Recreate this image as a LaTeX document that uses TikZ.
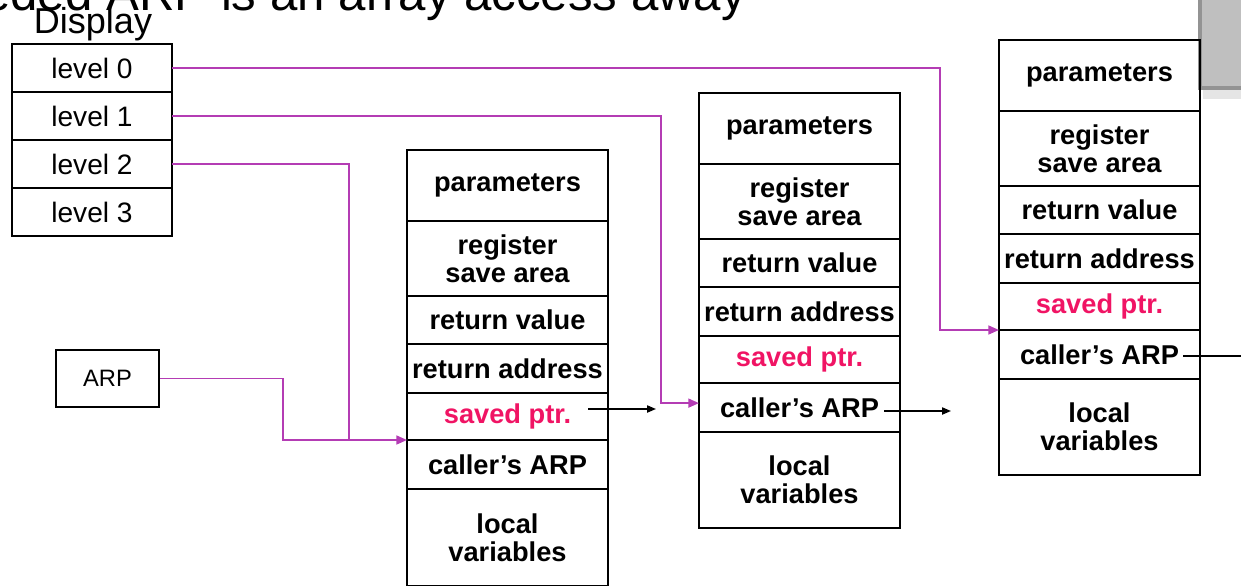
\documentclass[tikz,border=0pt]{standalone}
\usepackage{fontspec}
\setmainfont{Liberation Sans}
\usetikzlibrary{arrows.meta, positioning}

\definecolor{linkc}{RGB}{180,60,180}
\definecolor{ptrc}{RGB}{240,20,100}

\begin{document}
\begin{tikzpicture}[x=0.02cm, y=-0.02cm,
  cell/.style={draw, line width=1.3pt, outer sep=0pt, inner sep=0pt,
               minimum width=201*\px cm, align=center,
               font=\fontsize{15.5}{16}\selectfont\bfseries},
  lvl/.style={draw, line width=1.1pt, outer sep=0pt, inner sep=0pt,
              minimum width=160*\px cm, minimum height=48*\px cm,
              font=\fontsize{16}{18}\selectfont},
  link/.style={draw=linkc, line width=1.1pt, -{Triangle[length=6pt,width=5pt]}},
  nxt/.style={line width=0.9pt, -{Triangle[length=5pt,width=4pt]}}]

  \def\px{0.02}

  % page frame, title runs off the top
  \useasboundingbox (0,0) rectangle (1241,585);
  \clip (0,0) rectangle (1241,585);

  \node[anchor=base west, inner sep=0pt, font=\fontsize{28}{32}\selectfont] (title)
    at (-80,10) {Needed ARP is an array access away};

  % gray box in the corner
  \fill[black!10] (1203,90) rectangle (1250,99);
  \fill[gray!50] (1198,-5) rectangle (1250,90);
  \fill[gray!85] (1198,-5) rectangle (1202,90);
  \fill[gray!85] (1198,86) rectangle (1250,90);

  % the display
  \node[anchor=base, inner sep=0pt, font=\fontsize{20.5}{22}\selectfont] (dlabel) at (93,33) {Display};
  \node[lvl, anchor=north west] (dl0) at (12,44) {level 0};
  \node[lvl, below=0pt of dl0] (dl1) {level 1};
  \node[lvl, below=0pt of dl1] (dl2) {level 2};
  \node[lvl, below=0pt of dl2] (dl3) {level 3};

  \node[draw, line width=1.1pt, inner sep=0pt, minimum width=103*\px cm, minimum height=57*\px cm,
        font=\fontsize{13.5}{16}\selectfont, anchor=north west] (arp) at (55,349) {ARP};

  % activation records
  \foreach \s/\x/\y/\h in {1/407/150/97, 2/699/93/96, 3/999/40/96} {
    \node[cell, minimum height=71*\px cm, anchor=north west] (par\s) at (\x,\y) {parameters};
    \node[cell, minimum height=75*\px cm, below=0pt of par\s] (reg\s) {register\\save area};
    \node[cell, minimum height=48*\px cm, below=0pt of reg\s] (rv\s) {return value};
    \node[cell, minimum height=49*\px cm, below=0pt of rv\s] (ra\s) {return address};
    \node[cell, minimum height=47*\px cm, below=0pt of ra\s, text=ptrc] (sp\s) {saved ptr.};
    \node[cell, minimum height=49*\px cm, below=0pt of sp\s] (ca\s) {caller’s ARP};
    \node[cell, minimum height=\h*\px cm, below=0pt of ca\s] (loc\s) {local\\variables};
  }

  % display entries point into the records
  \coordinate (t2) at ([yshift=2.5pt]ca2.west);
  \path (sp3.south west) ++(-59,0) coordinate (b0);
  \path (t2) ++(-38,0) coordinate (b1);
  \path (sp1.south west) ++(-58,0) coordinate (b2);
  \path (sp1.south west) ++(-124,0) coordinate (b3);

  \draw[link] (dl0.east) -| (b0) -- (sp3.south west);
  \draw[link] (dl1.east) -| (b1) -- (t2);
  \draw[link, -] (dl2.east) -| (b2);
  \draw[link] (arp.east) -| (b3) -- (sp1.south west);

  % access links
  \coordinate (n1a) at (588,409);
  \coordinate (n1b) at (656,409);
  \coordinate (n2a) at (884,411);
  \coordinate (n2b) at (951,411);
  \coordinate (n3a) at (1183,356);
  \coordinate (n3b) at (1260,356);
  \draw[nxt] (n1a) -- (n1b);
  \draw[nxt] (n2a) -- (n2b);
  \draw[nxt] (n3a) -- (n3b);

\end{tikzpicture}
\end{document}
